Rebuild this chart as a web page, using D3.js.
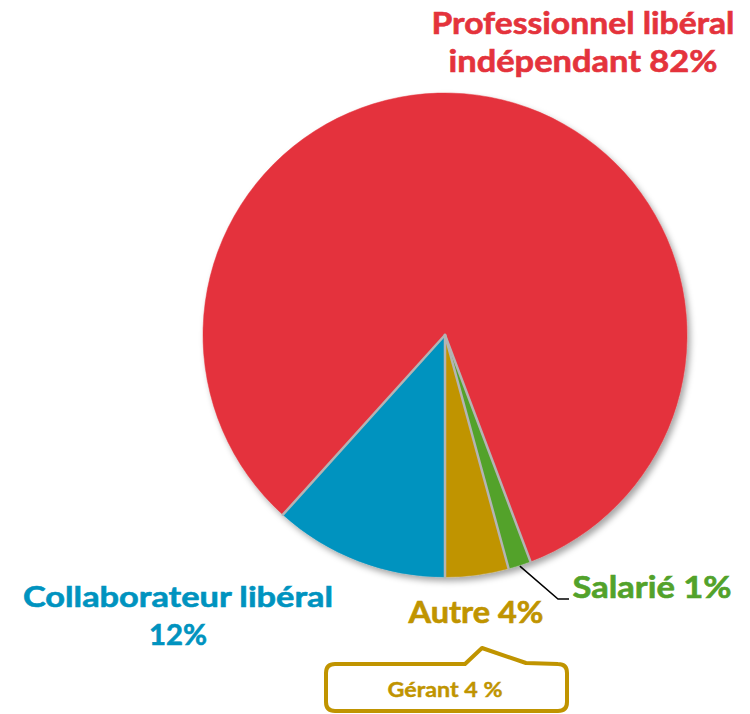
<!DOCTYPE html>
<html>
<head>
<meta charset="utf-8">
<script src="https://cdn.jsdelivr.net/npm/d3@7"></script>
<style>
body { margin:0; background:#fff; }
text { font-family: "Century Gothic", "Lato", sans-serif; font-weight: bold; }
</style>
</head>
<body>
<svg></svg>
<script>
var WIDTH = 750;
var HEIGHT = 714;

// slices in drawing order, clockwise from 6 o'clock
var categories = ['Collaborateur libéral', 'Professionnel libéral indépendant', 'Salarié', 'Autre'];
var values = [11.6, 82, 1.5, 4.2];
var colors = ['#0093bf', '#e4333c', '#52a22a', '#c09400'];

var labelLines = [['Collaborateur libéral', '12%'], ['Professionnel libéral', 'indépendant 82%'], ['Salarié 1%'], ['Autre 4%']];
var calloutText = 'Gérant 4 %';

var svg = d3.select('svg')
  .attr('width', WIDTH)
  .attr('height', HEIGHT);

var defs = svg.append('defs');
var f = defs.append('filter').attr('id', 'shadow')
  .attr('x', '-10%').attr('y', '-10%').attr('width', '125%').attr('height', '125%');
f.append('feDropShadow').attr('dx', 3).attr('dy', 4).attr('stdDeviation', 3)
  .attr('flood-color', '#000').attr('flood-opacity', 0.35);

var cx = 445, cy = 335, R = 242;

var pie = d3.pie().sort(null).value(function(d){ return d; })
  .startAngle(Math.PI).endAngle(3 * Math.PI);
var arc = d3.arc().innerRadius(0).outerRadius(R);

var arcs = pie(values);

var g = svg.append('g').attr('transform', 'translate(' + cx + ',' + cy + ')');
g.append('g').attr('filter', 'url(#shadow)')
  .selectAll('path').data(arcs).enter()
  .append('path')
  .attr('d', arc)
  .attr('fill', function(d, i){ return colors[i]; })
  .attr('stroke', function(d, i){ return colors[i]; })
  .attr('stroke-width', 0.5);

// grey separators along the radial edges
g.selectAll('line.sep').data(arcs).enter()
  .append('line')
  .attr('class', 'sep')
  .attr('x1', 0).attr('y1', 0)
  .attr('x2', function(d){ return Math.sin(d.startAngle) * R; })
  .attr('y2', function(d){ return -Math.cos(d.startAngle) * R; })
  .attr('stroke', '#b4b4b4')
  .attr('stroke-width', 2.5)
  .attr('stroke-linecap', 'round');

// labels: position, width fit
var labelPos = [
  {x: 178, y: [607, 645], w: [310, 58], size: 29},
  {x: 583, y: [34, 72], w: [303, 269], size: 30},
  {x: 652, y: [598], w: [159], size: 30},
  {x: 476, y: [623], w: [135], size: 30}
];

labelLines.forEach(function(lines, i){
  var p = labelPos[i];
  lines.forEach(function(t, j){
    svg.append('text')
      .attr('x', p.x).attr('y', p.y[j])
      .attr('text-anchor', 'middle')
      .attr('font-size', p.size)
      .attr('fill', colors[i])
      .attr('stroke', colors[i])
      .attr('stroke-width', 0.6)
      .attr('textLength', p.w[j])
      .attr('lengthAdjust', 'spacingAndGlyphs')
      .text(t);
  });
});

// leader for Salarié
var salArc = arcs[2];
var mid = (salArc.startAngle + salArc.endAngle) / 2;
var sx = cx + Math.sin(mid) * (R + 1), sy = cy - Math.cos(mid) * (R + 1);
svg.append('path')
  .attr('d', d3.line()([[sx, sy], [558, 599], [569, 599]]))
  .attr('fill', 'none').attr('stroke', '#000').attr('stroke-width', 1.5);

// callout box for Gérant
var bx0 = 326, bx1 = 567, by0 = 664, by1 = 711, r = 9;
var callout = d3.path();
callout.moveTo(bx0 + r, by0);
callout.lineTo(465, by0);
callout.lineTo(482, 648);
callout.lineTo(526, 663);
callout.lineTo(bx1 - r, by0);
callout.quadraticCurveTo(bx1, by0, bx1, by0 + r);
callout.lineTo(bx1, by1 - r);
callout.quadraticCurveTo(bx1, by1, bx1 - r, by1);
callout.lineTo(bx0 + r, by1);
callout.quadraticCurveTo(bx0, by1, bx0, by1 - r);
callout.lineTo(bx0, by0 + r);
callout.quadraticCurveTo(bx0, by0, bx0 + r, by0);
callout.closePath();
svg.append('path')
  .attr('d', callout.toString())
  .attr('fill', '#fff')
  .attr('stroke', colors[3])
  .attr('stroke-width', 4)
  .attr('stroke-linejoin', 'round');

svg.append('text')
  .attr('x', 445).attr('y', 697)
  .attr('text-anchor', 'middle')
  .attr('font-size', 20)
  .attr('fill', colors[3])
  .attr('stroke', colors[3])
  .attr('stroke-width', 0.4)
  .attr('textLength', 115)
  .attr('lengthAdjust', 'spacingAndGlyphs')
  .text(calloutText);
</script>
</body>
</html>
